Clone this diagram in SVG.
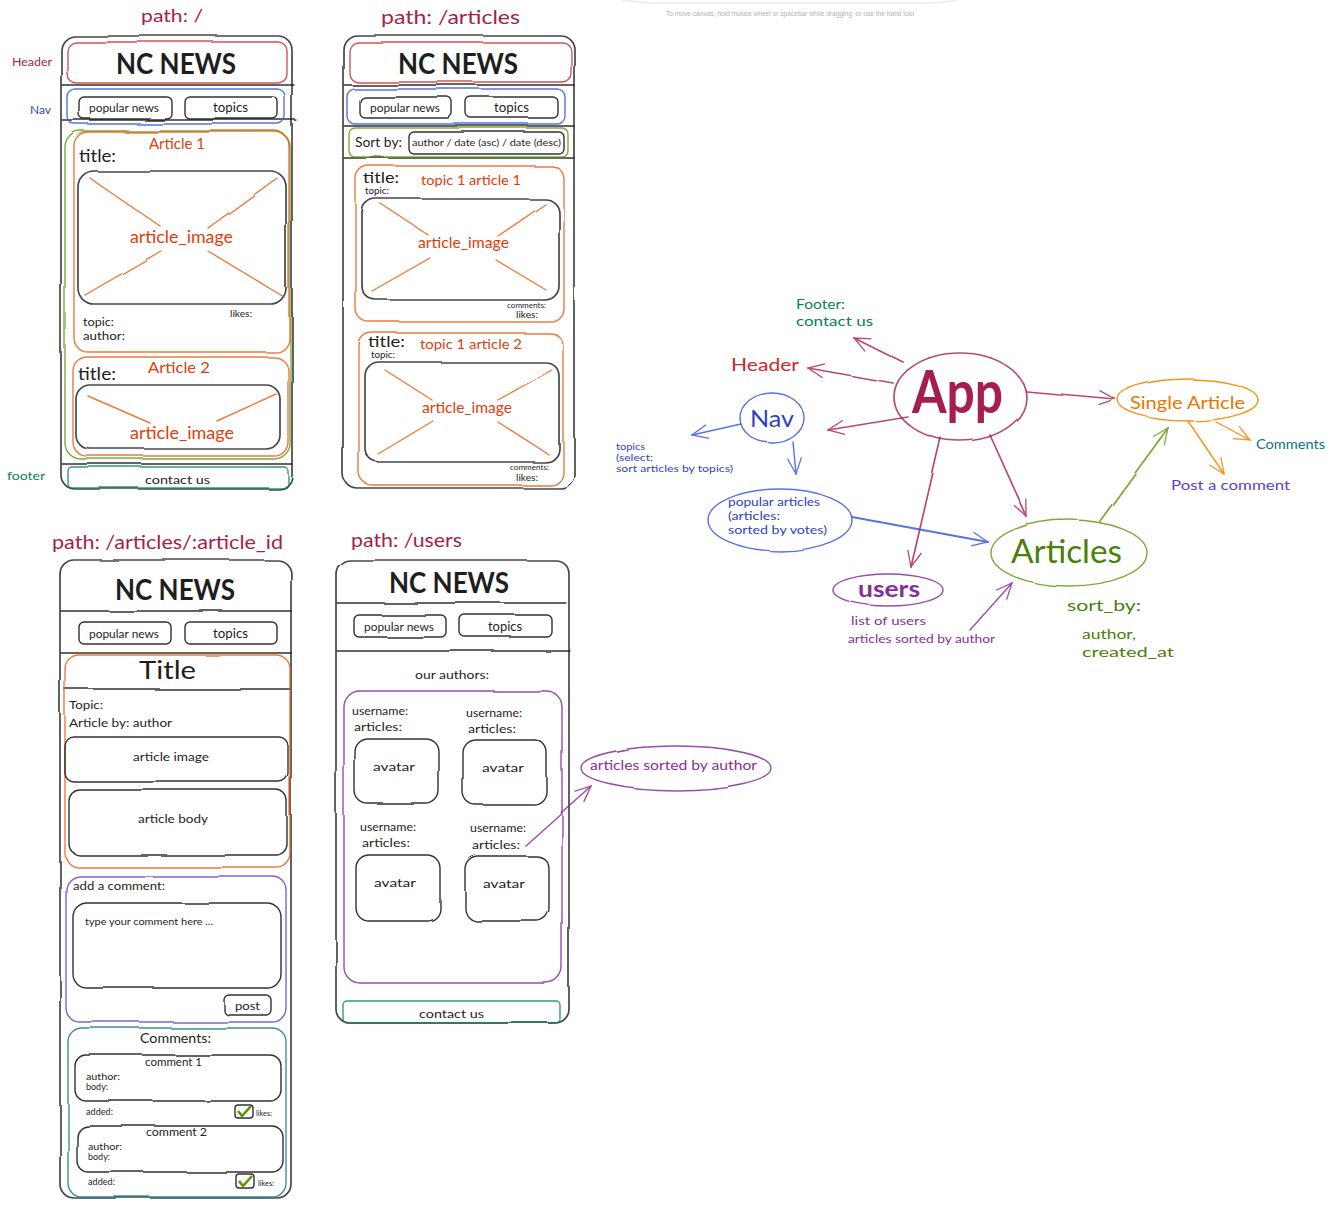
<svg xmlns="http://www.w3.org/2000/svg" width="1341" height="1212" viewBox="0 0 1341 1212">
<style>
text{font-family:"Lato","Liberation Sans",sans-serif;fill:#1e1e1e}
.s{fill:none;stroke:#1e1e1e;stroke-width:1.4;stroke-linecap:round;stroke-linejoin:round;opacity:.9;filter:url(#w)}
.k{stroke:#333;stroke-width:1.7}
.red{stroke:#c92a2a;opacity:.8}.blue{stroke:#3b5bdb;opacity:.85}.grn{stroke:#5c940d;opacity:.8}.org{stroke:#e8590c;opacity:.8}.teal{stroke:#0b7285;opacity:.8}.fg{stroke:#087f5b;opacity:.8}.pur{stroke:#862e9c;opacity:.85}.vio{stroke:#5f3dc4;opacity:.8}.mag{stroke:#a61e4d;opacity:.8;stroke-width:1.7}.amb{stroke:#f08c00;opacity:.9}
.tred{fill:#c92a2a}.tblue{fill:#2f3fc4}.tgrn{fill:#4a7f0a}.torg{fill:#e03e0a}.tteal{fill:#0b7285}.tfg{fill:#087f5b}.tpur{fill:#862e9c}.tvio{fill:#5f3dc4}.tmag{fill:#a61e4d}.tamb{fill:#e67700}
.b{font-weight:700}
</style>
<defs>
<filter id="w" filterUnits="userSpaceOnUse" x="0" y="0" width="1341" height="1212"><feTurbulence type="fractalNoise" baseFrequency="0.012" numOctaves="1" seed="4"/><feDisplacementMap in="SourceGraphic" scale="4"/></filter>
<marker id="am" markerWidth="22" markerHeight="18" refX="18" refY="9" orient="auto" markerUnits="userSpaceOnUse"><path d="M2 2L18 9L2 16" fill="none" stroke="#a61e4d" stroke-width="1.3"/></marker>
<marker id="ab" markerWidth="22" markerHeight="18" refX="18" refY="9" orient="auto" markerUnits="userSpaceOnUse"><path d="M2 2L18 9L2 16" fill="none" stroke="#3b5bdb" stroke-width="1.3"/></marker>
<marker id="ag" markerWidth="22" markerHeight="18" refX="18" refY="9" orient="auto" markerUnits="userSpaceOnUse"><path d="M2 2L18 9L2 16" fill="none" stroke="#5c940d" stroke-width="1.3"/></marker>
<marker id="ao" markerWidth="22" markerHeight="18" refX="18" refY="9" orient="auto" markerUnits="userSpaceOnUse"><path d="M2 2L18 9L2 16" fill="none" stroke="#f08c00" stroke-width="1.3"/></marker>
<marker id="ap" markerWidth="22" markerHeight="18" refX="18" refY="9" orient="auto" markerUnits="userSpaceOnUse"><path d="M2 2L18 9L2 16" fill="none" stroke="#862e9c" stroke-width="1.3"/></marker>
</defs>
<rect width="1341" height="1212" fill="#fff"/>
<path d="M622 0Q640 3 660 3H920Q945 3 957 0" fill="none" stroke="#e9e9ef" stroke-width="1.5"/>
<text x="666" y="16" font-size="6.5" textLength="248" lengthAdjust="spacingAndGlyphs" style="fill:#b0b0b8;font-family:'Liberation Sans',sans-serif">To move canvas, hold mouse wheel or spacebar while dragging, or use the hand tool</text>
<g id="screen-home">
<rect class="s k" x="61" y="36" width="231" height="453" rx="14"/>
<path class="s" d="M62 85H294M62 120H296M62 464H292"/>
<rect class="s red" x="67" y="42" width="220" height="41" rx="9"/>
<rect class="s blue" x="67" y="89" width="218" height="35" rx="8"/>
<rect class="s" x="79" y="97" width="93" height="22" rx="5"/>
<rect class="s" x="185" y="97" width="93" height="22" rx="5"/>
<rect class="s grn" x="65" y="131" width="225" height="328" rx="16"/>
<rect class="s org" x="74" y="132" width="215" height="220" rx="14"/>
<rect class="s k" x="78" y="171" width="208" height="133" rx="16"/>
<path class="s org" d="M90 178L160 226M277 178L208 228M161 251L85 295M208 251L284 297"/>
<rect class="s org" x="73" y="357" width="215" height="99" rx="14"/>
<rect class="s k" x="76" y="385" width="204" height="64" rx="14"/>
<path class="s org" d="M88 396L150 423M276 394L217 421"/>
<rect class="s fg" x="68" y="467" width="220" height="21" rx="4"/>
<text class="tmag" x="141" y="22" font-size="18" textLength="62" lengthAdjust="spacingAndGlyphs">path: /</text>
<text class="tmag" x="12" y="66" font-size="11" textLength="40" lengthAdjust="spacingAndGlyphs">Header</text>
<text class="tblue" x="30" y="114" font-size="11" textLength="21" lengthAdjust="spacingAndGlyphs">Nav</text>
<text class="tfg" x="7" y="480" font-size="12" textLength="38" lengthAdjust="spacingAndGlyphs">footer</text>
<text class="b" x="116" y="74" font-size="28" textLength="120" lengthAdjust="spacingAndGlyphs">NC NEWS</text>
<text x="89" y="112" font-size="12" textLength="70" lengthAdjust="spacingAndGlyphs">popular news</text>
<text x="213" y="112" font-size="13" textLength="35" lengthAdjust="spacingAndGlyphs">topics</text>
<text class="torg" x="149" y="149" font-size="15" textLength="56" lengthAdjust="spacingAndGlyphs">Article 1</text>
<text x="79" y="162" font-size="17" textLength="37" lengthAdjust="spacingAndGlyphs">title:</text>
<text class="torg" x="130" y="243" font-size="17" textLength="103" lengthAdjust="spacingAndGlyphs">article_image</text>
<text x="230" y="317" font-size="10" textLength="22" lengthAdjust="spacingAndGlyphs">likes:</text>
<text x="83" y="326" font-size="11" textLength="31" lengthAdjust="spacingAndGlyphs">topic:</text>
<text x="83" y="340" font-size="11" textLength="42" lengthAdjust="spacingAndGlyphs">author:</text>
<text class="torg" x="148" y="373" font-size="15" textLength="62" lengthAdjust="spacingAndGlyphs">Article 2</text>
<text x="78" y="380" font-size="17" textLength="38" lengthAdjust="spacingAndGlyphs">title:</text>
<text class="torg" x="130" y="439" font-size="17" textLength="104" lengthAdjust="spacingAndGlyphs">article_image</text>
<text x="145" y="484" font-size="12" textLength="65" lengthAdjust="spacingAndGlyphs">contact us</text>
</g>
<g id="screen-articles">
<rect class="s k" x="343" y="35" width="231" height="453" rx="14"/>
<path class="s" d="M344 85H574M344 126H574M344 158H574"/>
<rect class="s red" x="349" y="42" width="222" height="40" rx="9"/>
<rect class="s blue" x="347" y="89" width="218" height="35" rx="8"/>
<rect class="s" x="360" y="97" width="92" height="21" rx="5"/>
<rect class="s" x="466" y="97" width="92" height="21" rx="5"/>
<rect class="s grn" x="349" y="128" width="219" height="29" rx="6"/>
<rect class="s" x="409" y="132" width="155" height="22" rx="5"/>
<rect class="s org" x="356" y="166" width="208" height="156" rx="13"/>
<rect class="s k" x="362" y="199" width="197" height="101" rx="14"/>
<path class="s org" d="M381 204L428 235M545 204L498 236M430 258L372 291M496 260L546 290"/>
<rect class="s org" x="359" y="333" width="204" height="152" rx="13"/>
<rect class="s k" x="365" y="362" width="194" height="100" rx="14"/>
<path class="s org" d="M385 370L432 400M552 370L498 400M433 421L378 454M498 422L548 454"/>
<text class="tmag" x="381" y="24" font-size="20" textLength="139" lengthAdjust="spacingAndGlyphs">path: /articles</text>
<text class="b" x="398" y="74" font-size="28" textLength="120" lengthAdjust="spacingAndGlyphs">NC NEWS</text>
<text x="370" y="112" font-size="12" textLength="70" lengthAdjust="spacingAndGlyphs">popular news</text>
<text x="494" y="112" font-size="13" textLength="35" lengthAdjust="spacingAndGlyphs">topics</text>
<text x="355" y="147" font-size="13" textLength="47" lengthAdjust="spacingAndGlyphs">Sort by:</text>
<text x="412" y="146" font-size="8.5" textLength="149" lengthAdjust="spacingAndGlyphs">author / date (asc) / date (desc)</text>
<text x="363" y="183" font-size="16" textLength="36" lengthAdjust="spacingAndGlyphs">title:</text>
<text x="365" y="194" font-size="8.5" textLength="24" lengthAdjust="spacingAndGlyphs">topic:</text>
<text class="torg" x="421" y="185" font-size="14" textLength="100" lengthAdjust="spacingAndGlyphs">topic 1 article 1</text>
<text class="torg" x="418" y="248" font-size="15" textLength="91" lengthAdjust="spacingAndGlyphs">article_image</text>
<text x="507" y="308" font-size="7.5" textLength="39" lengthAdjust="spacingAndGlyphs">comments:</text>
<text x="516" y="318" font-size="8.5" textLength="22" lengthAdjust="spacingAndGlyphs">likes:</text>
<text x="368" y="347" font-size="16" textLength="37" lengthAdjust="spacingAndGlyphs">title:</text>
<text x="371" y="358" font-size="8.5" textLength="24" lengthAdjust="spacingAndGlyphs">topic:</text>
<text class="torg" x="420" y="349" font-size="14" textLength="102" lengthAdjust="spacingAndGlyphs">topic 1 article 2</text>
<text class="torg" x="422" y="413" font-size="15" textLength="90" lengthAdjust="spacingAndGlyphs">article_image</text>
<text x="510" y="470" font-size="8" textLength="39" lengthAdjust="spacingAndGlyphs">comments:</text>
<text x="516" y="481" font-size="9" textLength="22" lengthAdjust="spacingAndGlyphs">likes:</text>
</g>
<g id="screen-article">
<rect class="s k" x="60" y="560" width="231" height="638" rx="14"/>
<path class="s" d="M61 611H291M61 653H291M65 689H290"/>
<rect class="s" x="79" y="622" width="92" height="22" rx="5"/>
<rect class="s" x="185" y="622" width="92" height="22" rx="5"/>
<rect class="s org" x="65" y="655" width="225" height="212" rx="14"/>
<rect class="s" x="65" y="737" width="223" height="45" rx="9"/>
<rect class="s" x="69" y="790" width="218" height="65" rx="11"/>
<rect class="s vio" x="66" y="876" width="220" height="146" rx="14"/>
<rect class="s" x="73" y="903" width="208" height="85" rx="14"/>
<rect class="s" x="224" y="995" width="47" height="20" rx="5"/>
<rect class="s teal" x="68" y="1028" width="218" height="169" rx="14"/>
<rect class="s" x="75" y="1055" width="206" height="46" rx="11"/>
<rect class="s" x="77" y="1126" width="206" height="46" rx="11"/>
<rect class="s" x="235" y="1105" width="18" height="13" rx="3"/>
<path d="M238 1111L242 1116L251 1106" fill="none" stroke="#5c940d" stroke-width="2.6"/>
<rect class="s" x="236" y="1174" width="18" height="14" rx="3"/>
<path d="M239 1181L243 1186L252 1176" fill="none" stroke="#5c940d" stroke-width="2.6"/>
<text class="tmag" x="52" y="549" font-size="19" textLength="231" lengthAdjust="spacingAndGlyphs">path: /articles/:article_id</text>
<text class="b" x="115" y="600" font-size="28" textLength="120" lengthAdjust="spacingAndGlyphs">NC NEWS</text>
<text x="89" y="638" font-size="12" textLength="70" lengthAdjust="spacingAndGlyphs">popular news</text>
<text x="213" y="638" font-size="13" textLength="35" lengthAdjust="spacingAndGlyphs">topics</text>
<text x="139" y="679" font-size="25" textLength="57" lengthAdjust="spacingAndGlyphs">Title</text>
<text x="69" y="709" font-size="12" textLength="34" lengthAdjust="spacingAndGlyphs">Topic:</text>
<text x="69" y="727" font-size="12" textLength="103" lengthAdjust="spacingAndGlyphs">Article by: author</text>
<text x="133" y="761" font-size="12" textLength="76" lengthAdjust="spacingAndGlyphs">article image</text>
<text x="138" y="823" font-size="12" textLength="70" lengthAdjust="spacingAndGlyphs">article body</text>
<text x="73" y="890" font-size="12" textLength="92" lengthAdjust="spacingAndGlyphs">add a comment:</text>
<text x="85" y="925" font-size="10" textLength="128" lengthAdjust="spacingAndGlyphs">type your comment here ...</text>
<text x="235" y="1010" font-size="12" textLength="25" lengthAdjust="spacingAndGlyphs">post</text>
<text x="140" y="1043" font-size="14" textLength="71" lengthAdjust="spacingAndGlyphs">Comments:</text>
<text x="145" y="1066" font-size="11" textLength="57" lengthAdjust="spacingAndGlyphs">comment 1</text>
<text x="86" y="1080" font-size="9" textLength="34" lengthAdjust="spacingAndGlyphs">author:</text>
<text x="86" y="1090" font-size="9" textLength="22" lengthAdjust="spacingAndGlyphs">body:</text>
<text x="86" y="1115" font-size="9" textLength="27" lengthAdjust="spacingAndGlyphs">added:</text>
<text x="256" y="1116" font-size="8" textLength="16" lengthAdjust="spacingAndGlyphs">likes:</text>
<text x="146" y="1136" font-size="11" textLength="61" lengthAdjust="spacingAndGlyphs">comment 2</text>
<text x="88" y="1150" font-size="9" textLength="34" lengthAdjust="spacingAndGlyphs">author:</text>
<text x="88" y="1160" font-size="9" textLength="22" lengthAdjust="spacingAndGlyphs">body:</text>
<text x="88" y="1185" font-size="9" textLength="27" lengthAdjust="spacingAndGlyphs">added:</text>
<text x="258" y="1186" font-size="8" textLength="16" lengthAdjust="spacingAndGlyphs">likes:</text>
</g>
<g id="screen-users">
<rect class="s k" x="336" y="560" width="233" height="463" rx="14"/>
<path class="s" d="M337 603H566M337 651H570"/>
<rect class="s" x="354" y="615" width="92" height="22" rx="5"/>
<rect class="s" x="460" y="615" width="92" height="22" rx="5"/>
<rect class="s pur" x="344" y="691" width="218" height="292" rx="16"/>
<rect class="s" x="355" y="739" width="84" height="65" rx="13"/>
<rect class="s" x="463" y="740" width="84" height="65" rx="13"/>
<rect class="s" x="356" y="855" width="84" height="66" rx="13"/>
<rect class="s" x="465" y="856" width="84" height="65" rx="13"/>
<rect class="s fg" x="343" y="1001" width="217" height="22" rx="4"/>
<text class="tmag" x="351" y="547" font-size="19" textLength="111" lengthAdjust="spacingAndGlyphs">path: /users</text>
<text class="b" x="389" y="593" font-size="28" textLength="120" lengthAdjust="spacingAndGlyphs">NC NEWS</text>
<text x="364" y="631" font-size="12" textLength="70" lengthAdjust="spacingAndGlyphs">popular news</text>
<text x="488" y="631" font-size="13" textLength="34" lengthAdjust="spacingAndGlyphs">topics</text>
<text x="415" y="679" font-size="11" textLength="74" lengthAdjust="spacingAndGlyphs">our authors:</text>
<text x="352" y="715" font-size="12" textLength="56" lengthAdjust="spacingAndGlyphs">username:</text>
<text x="354" y="731" font-size="12" textLength="48" lengthAdjust="spacingAndGlyphs">articles:</text>
<text x="466" y="717" font-size="12" textLength="56" lengthAdjust="spacingAndGlyphs">username:</text>
<text x="468" y="733" font-size="12" textLength="48" lengthAdjust="spacingAndGlyphs">articles:</text>
<text x="373" y="771" font-size="12" textLength="42" lengthAdjust="spacingAndGlyphs">avatar</text>
<text x="482" y="772" font-size="12" textLength="42" lengthAdjust="spacingAndGlyphs">avatar</text>
<text x="360" y="831" font-size="12" textLength="56" lengthAdjust="spacingAndGlyphs">username:</text>
<text x="362" y="847" font-size="12" textLength="48" lengthAdjust="spacingAndGlyphs">articles:</text>
<text x="470" y="832" font-size="12" textLength="56" lengthAdjust="spacingAndGlyphs">username:</text>
<text x="472" y="849" font-size="12" textLength="48" lengthAdjust="spacingAndGlyphs">articles:</text>
<text x="374" y="887" font-size="12" textLength="42" lengthAdjust="spacingAndGlyphs">avatar</text>
<text x="483" y="888" font-size="12" textLength="42" lengthAdjust="spacingAndGlyphs">avatar</text>
<text x="419" y="1018" font-size="12" textLength="65" lengthAdjust="spacingAndGlyphs">contact us</text>
</g>
<g id="node-sorted-by-author">
<ellipse class="s pur" cx="676" cy="768" rx="95" ry="22"/>
<text class="tpur" x="590" y="770" font-size="13" textLength="167" lengthAdjust="spacingAndGlyphs">articles sorted by author</text>
</g>
<g id="connectors">
<path class="s pur" d="M525 845L591 786" marker-end="url(#ap)"/>
<path class="s mag" d="M903 362L853 337" marker-end="url(#am)"/>
<path class="s mag" d="M893 383L808 368" marker-end="url(#am)"/>
<path class="s mag" d="M908 417L828 430" marker-end="url(#am)"/>
<path class="s mag" d="M1026 391L1115 399" marker-end="url(#am)"/>
<path class="s mag" d="M990 435L1027 517" marker-end="url(#am)"/>
<path class="s mag" d="M941 438L911 567" marker-end="url(#am)"/>
<path class="s blue" d="M741 424L692 435" marker-end="url(#ab)"/>
<path class="s blue" d="M793 442L796 474" marker-end="url(#ab)"/>
<path class="s blue" style="stroke-width:2" d="M852 517L988 542" marker-end="url(#ab)"/>
<path class="s grn" style="stroke-width:1.8" d="M1100 521L1168 428" marker-end="url(#ag)"/>
<path class="s amb" d="M1216 422L1250 440" marker-end="url(#ao)"/>
<path class="s amb" d="M1188 421L1224 474" marker-end="url(#ao)"/>
<path class="s pur" d="M970 630L1012 583" marker-end="url(#ap)"/>
</g>
<g id="node-app">
<ellipse class="s mag" cx="960" cy="397" rx="66" ry="44"/>
<text class="tmag b" x="912" y="413" font-size="60" textLength="91" lengthAdjust="spacingAndGlyphs">App</text>
</g>
<g id="node-footer">
<text class="tfg" x="796" y="309" font-size="14" textLength="49" lengthAdjust="spacingAndGlyphs">Footer:</text>
<text class="tfg" x="796" y="326" font-size="14" textLength="77" lengthAdjust="spacingAndGlyphs">contact us</text>
</g>
<g id="node-header"><text class="tred" x="731" y="371" font-size="18" textLength="68" lengthAdjust="spacingAndGlyphs">Header</text></g>
<g id="node-nav">
<ellipse class="s blue" cx="772" cy="418" rx="32" ry="25"/>
<text class="tblue" x="750" y="427" font-size="24" textLength="44" lengthAdjust="spacingAndGlyphs">Nav</text>
</g>
<g id="node-topics">
<text class="tblue" x="616" y="450" font-size="10" textLength="29" lengthAdjust="spacingAndGlyphs">topics</text>
<text class="tblue" x="616" y="461" font-size="10" textLength="37" lengthAdjust="spacingAndGlyphs">(select:</text>
<text class="tblue" x="616" y="472" font-size="10" textLength="117" lengthAdjust="spacingAndGlyphs">sort articles by topics)</text>
</g>
<g id="node-popular">
<ellipse class="s blue" cx="780" cy="520" rx="72" ry="31"/>
<text class="tblue" x="728" y="506" font-size="12" textLength="92" lengthAdjust="spacingAndGlyphs">popular articles</text>
<text class="tblue" x="728" y="520" font-size="12" textLength="52" lengthAdjust="spacingAndGlyphs">(articles:</text>
<text class="tblue" x="728" y="534" font-size="12" textLength="99" lengthAdjust="spacingAndGlyphs">sorted by votes)</text>
</g>
<g id="node-users">
<ellipse class="s pur" cx="888" cy="590" rx="55" ry="16"/>
<text class="tpur b" x="858" y="597" font-size="22" textLength="62" lengthAdjust="spacingAndGlyphs">users</text>
<text class="tpur" x="851" y="625" font-size="12" textLength="75" lengthAdjust="spacingAndGlyphs">list of users</text>
<text class="tpur" x="848" y="643" font-size="12" textLength="147" lengthAdjust="spacingAndGlyphs">articles sorted by author</text>
</g>
<g id="node-articles">
<ellipse class="s grn" cx="1069" cy="553" rx="78" ry="33"/>
<text class="tgrn" x="1011" y="563" font-size="33" textLength="111" lengthAdjust="spacingAndGlyphs">Articles</text>
<text class="tgrn" x="1067" y="611" font-size="15" textLength="74" lengthAdjust="spacingAndGlyphs">sort_by:</text>
<text class="tgrn" x="1082" y="639" font-size="14" textLength="54" lengthAdjust="spacingAndGlyphs">author,</text>
<text class="tgrn" x="1082" y="657" font-size="14" textLength="92" lengthAdjust="spacingAndGlyphs">created_at</text>
</g>
<g id="node-single-article">
<ellipse class="s amb" cx="1188" cy="400" rx="70" ry="21"/>
<text class="tamb" x="1130" y="409" font-size="18" textLength="115" lengthAdjust="spacingAndGlyphs">Single Article</text>
</g>
<g id="node-comments"><text class="tteal" x="1256" y="449" font-size="13" textLength="69" lengthAdjust="spacingAndGlyphs">Comments</text></g>
<g id="node-post"><text class="tvio" x="1171" y="490" font-size="14" textLength="119" lengthAdjust="spacingAndGlyphs">Post a comment</text></g>
</svg>
